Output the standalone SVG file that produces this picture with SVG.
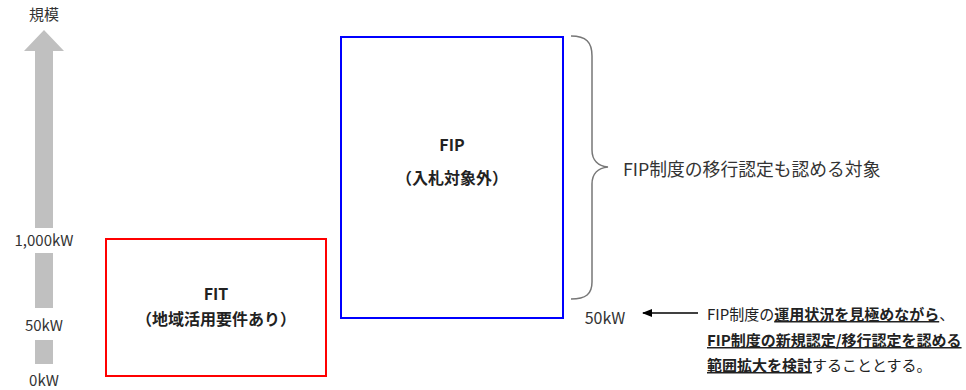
<svg xmlns="http://www.w3.org/2000/svg" width="966" height="390" viewBox="0 0 966 390">
<style>
text{font-family:"Noto Sans CJK JP","Liberation Sans",sans-serif;fill:#222;}
.ax{font-size:15px;fill:#333;text-anchor:middle;}
.lbl{font-size:16px;font-weight:bold;text-anchor:middle;}
.note{font-size:15px;}
.b{font-weight:bold;}
.u{text-decoration:underline;}
.axis{fill:#c0c0c0;}
</style>
<defs>
<marker id="ah" markerWidth="10" markerHeight="8" refX="9" refY="4" orient="auto" markerUnits="userSpaceOnUse">
<path d="M0,0 L10,4 L0,8 Z" fill="#000"/>
</marker>
</defs>
<rect width="966" height="390" fill="#fff"/>
<g id="axis">
<text class="ax" x="44" y="20">規模</text>
<polygon class="axis" points="44,30 64,51 53,51 53,228 35,228 35,51 24,51"/>
<rect class="axis" x="35" y="253" width="18" height="55"/>
<rect class="axis" x="35" y="340" width="18" height="24"/>
<text class="ax" x="44" y="246">1,000kW</text>
<text class="ax" x="44" y="331">50kW</text>
<text class="ax" x="44" y="386">0kW</text>
</g>
<g id="fit">
<rect x="106" y="239" width="220" height="137" fill="none" stroke="#ff0000" stroke-width="2"/>
<text class="lbl" x="216" y="300">FIT</text>
<text class="lbl" x="216" y="325">（地域活用要件あり）</text>
</g>
<g id="fip">
<rect x="341" y="37" width="222" height="281" fill="none" stroke="#0000ff" stroke-width="2"/>
<text class="lbl" x="452" y="151">FIP</text>
<text class="lbl" x="452" y="184">（入札対象外）</text>
</g>
<g id="brace">
<path d="M571,36 C586,36 592,42 592,56 L592,150 C592,160 598,166 608,167 C598,168 592,174 592,184 L592,282 C592,294 586,299 571,299" fill="none" stroke="#777" stroke-width="1.5"/>
<text x="623" y="176" style="font-size:17.8px;fill:#333">FIP制度の移行認定も認める対象</text>
</g>
<g id="connectors">
<line x1="698" y1="313" x2="643" y2="313" stroke="#000" stroke-width="1.3" marker-end="url(#ah)"/>
</g>
<g id="note">
<text class="ax" x="605" y="324" style="font-size:16px">50kW</text>
<text class="note" x="707" y="320">FIP制度の<tspan class="b u">運用状況を見極めながら</tspan>、</text>
<text class="note b" x="707" y="346"><tspan class="u">FIP制度の新規認定/移行認定を認める</tspan></text>
<text class="note" x="707" y="371"><tspan class="b u">範囲拡大を検討</tspan>することとする。</text>
</g>
</svg>
